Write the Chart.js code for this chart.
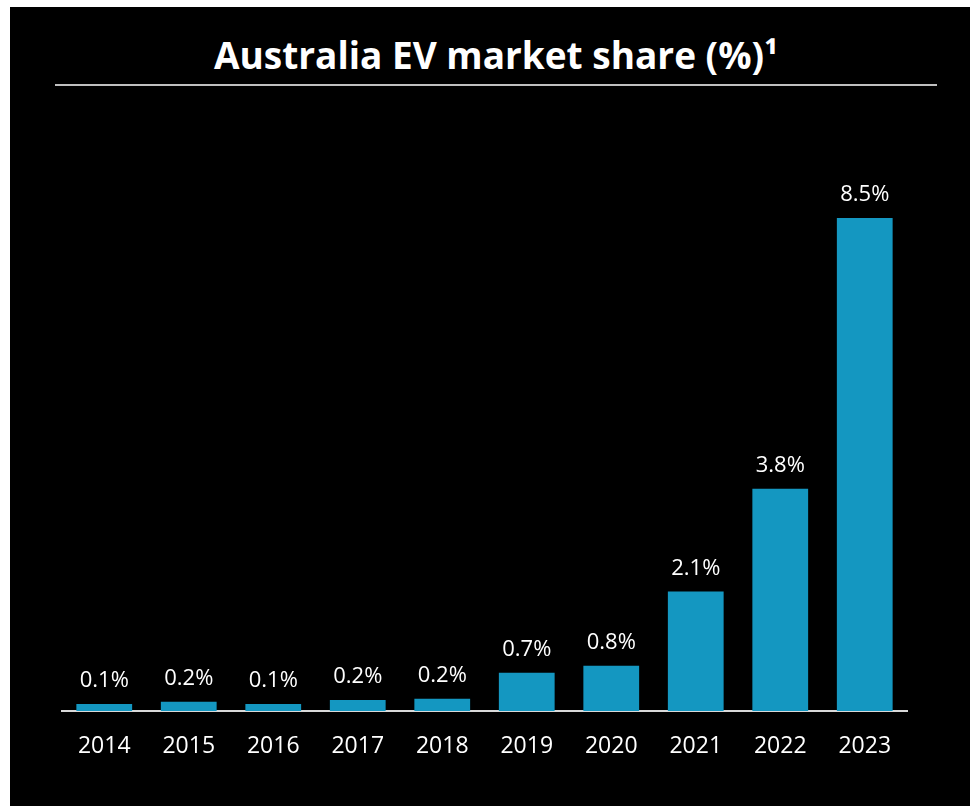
<!DOCTYPE html>
<html>
<head>
<meta charset="utf-8">
<title>Australia EV market share</title>
<script src="https://cdn.jsdelivr.net/npm/chart.js@4/dist/chart.umd.min.js"></script>
<style>
    html, body {
        margin: 0;
        padding: 0;
        background: #ffffff;
        width: 970px;
        height: 806px;
        overflow: hidden;
    }

    .panel {
        position: absolute;
        left: 10px;
        top: 7px;
        width: 960px;
        height: 799px;
        background: #000000;
    }

    .panel h1 {
        position: absolute;
        left: 0;
        top: 23px;
        width: 972px;
        margin: 0;
        text-align: center;
        color: #ffffff;
        font-family: "Open Sans", sans-serif;
        font-weight: 700;
        font-size: 37px;
        line-height: 50px;
    }

    .panel .rule {
        position: absolute;
        left: 45px;
        top: 77px;
        width: 882px;
        height: 2px;
        background: #bfbfbf;
    }

    #shareCanvas {
        position: absolute;
        left: 0;
        top: 0;
    }
</style>
</head>
<body>
<div class="panel">
    <h1>Australia EV market share (%)¹</h1>
    <div class="rule"></div>
    <canvas id="shareCanvas" width="960" height="799"></canvas>
</div>

<script>
const years = ["2014", "2015", "2016", "2017", "2018", "2019", "2020", "2021", "2022", "2023"];
const share = [0.12, 0.16, 0.12, 0.19, 0.21, 0.66, 0.78, 2.06, 3.83, 8.5];

const barColor = "#1497c1";

Chart.defaults.font.family = "'Open Sans', sans-serif";

// writes the % value above each bar
const barLabels = {
    id: "barLabels",
    afterDatasetsDraw(chart) {
        const c = chart.ctx;
        const meta = chart.getDatasetMeta(0);
        c.save();
        c.fillStyle = "#ffffff";
        c.font = "22px 'Open Sans', sans-serif";
        c.textAlign = "center";
        c.textBaseline = "alphabetic";
        meta.data.forEach((bar, i) => {
            c.fillText(share[i].toFixed(1) + "%", bar.x, bar.y - 17);
        });
        c.restore();
    }
};

const ctx = document.getElementById("shareCanvas");

const chart = new Chart(ctx, {
    type: "bar",
    data: {
        labels: years,
        datasets: [
            {
                data: share,
                backgroundColor: barColor,
                borderWidth: 0,
                categoryPercentage: 1,
                barPercentage: 0.66
            }
        ]
    },
    options: {
        responsive: false,
        animation: false,
        layout: {
            padding: { top: 124, left: 52, right: 63, bottom: 0 }
        },
        plugins: {
            legend: { display: false },
            tooltip: { enabled: false }
        },
        scales: {
            x: {
                grid: { display: false, drawTicks: false },
                border: { color: "#d9d9d9", width: 2 },
                ticks: {
                    color: "#ffffff",
                    padding: 22,
                    font: { size: 23 }
                },
                afterFit(scale) {
                    scale.height = 95;
                }
            },
            y: {
                display: false,
                min: 0,
                max: 10
            }
        }
    },
    plugins: [barLabels]
});
</script>
</body>
</html>
